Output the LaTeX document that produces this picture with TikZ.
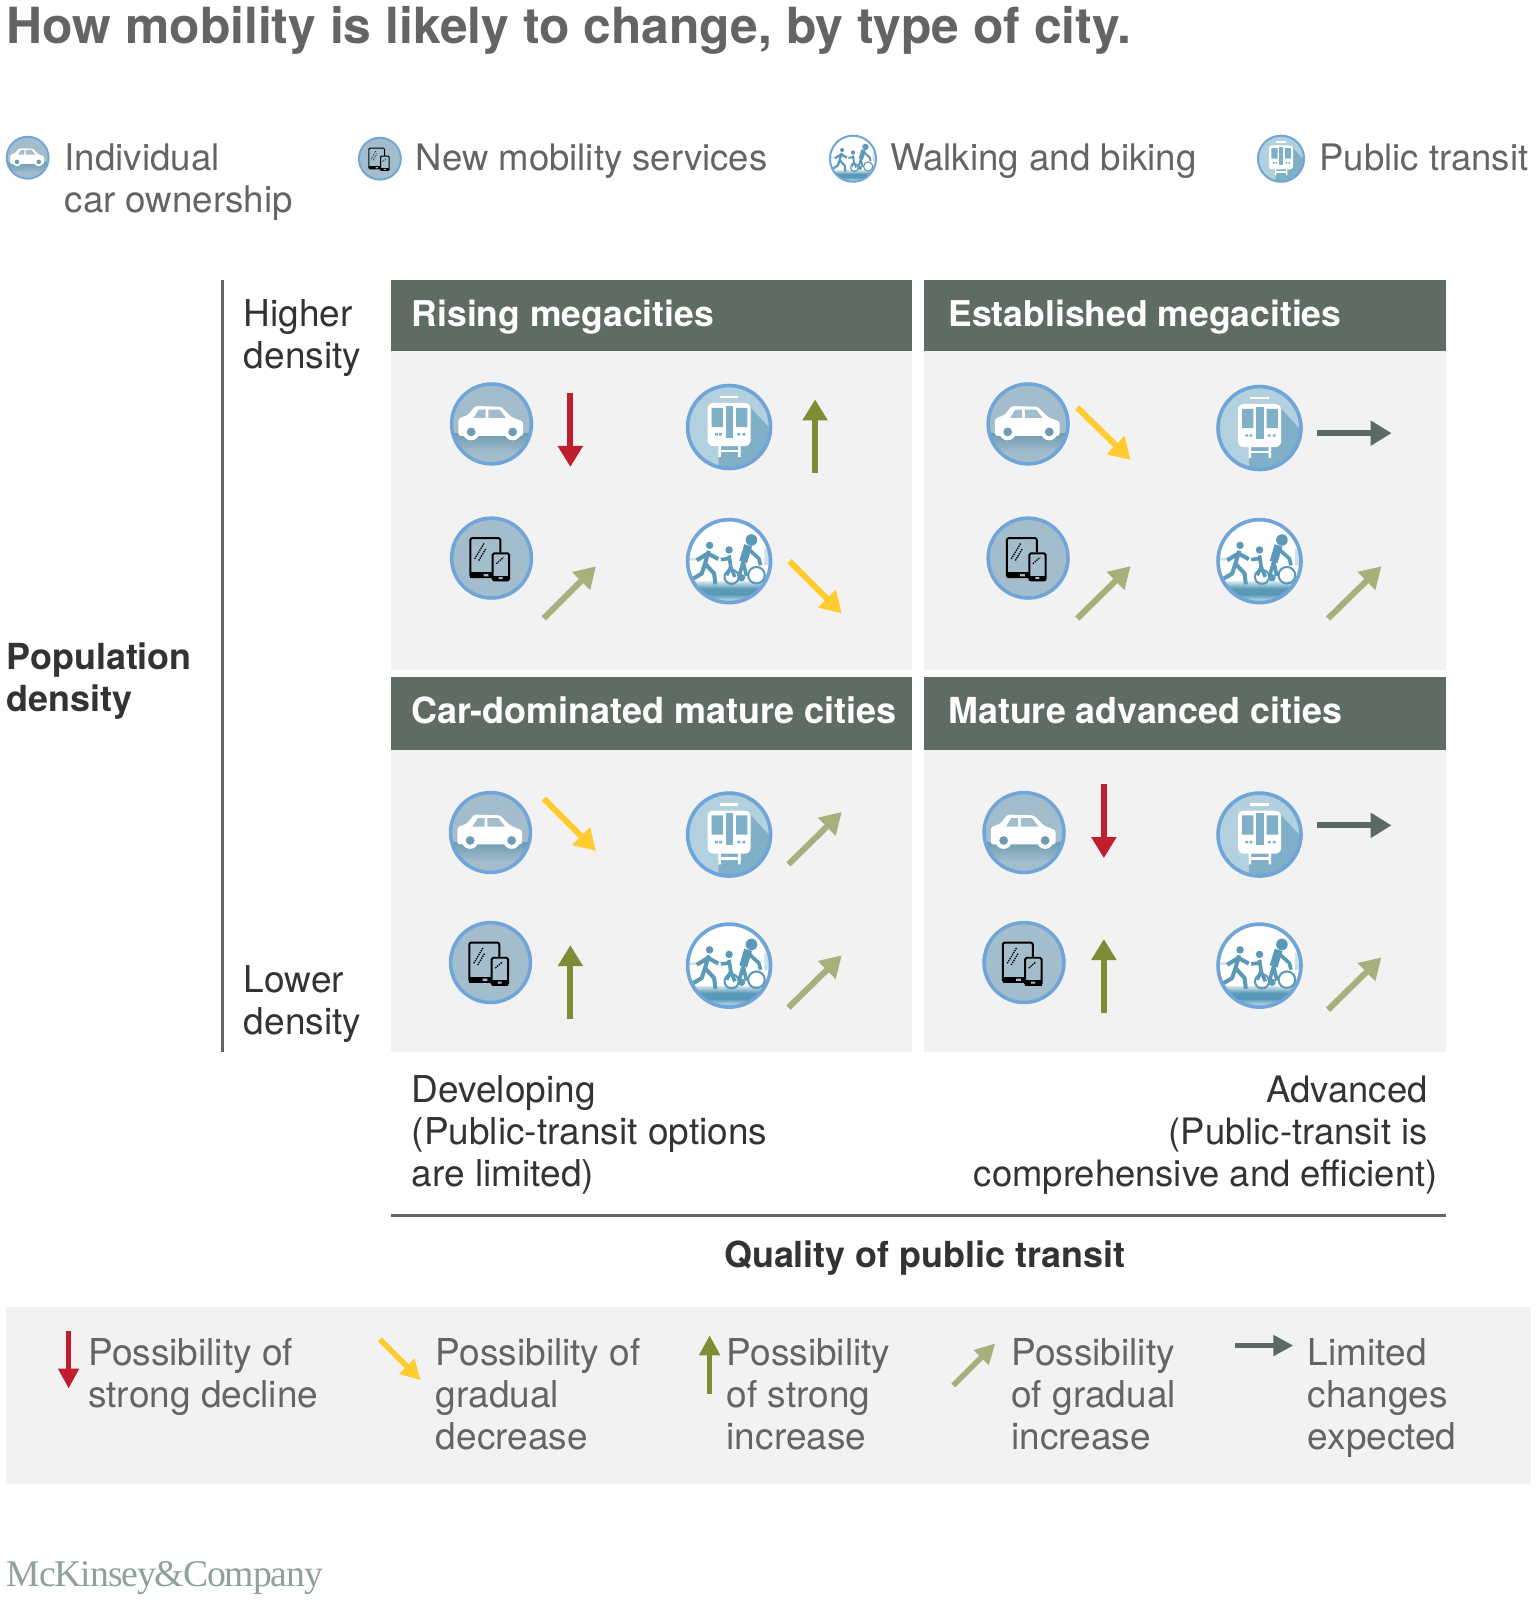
\documentclass[tikz,border=0pt]{standalone}
\usepackage{fontspec}
\setmainfont{TeX Gyre Heros}
\newfontfamily\logofont{Liberation Serif}
\usetikzlibrary{arrows.meta}
\definecolor{cGrey}{HTML}{636466}
\definecolor{cDark}{HTML}{333333}
\definecolor{cPanel}{HTML}{F2F2F2}
\definecolor{cHead}{HTML}{5F6C64}
\definecolor{cRed}{HTML}{BE1E2D}
\definecolor{cYel}{HTML}{FFCB2F}
\definecolor{cOli}{HTML}{7F8C36}
\definecolor{cLig}{HTML}{A9AF7B}
\definecolor{cFlat}{HTML}{5B6B63}
\definecolor{cRing}{HTML}{6FA5D8}
\definecolor{cCarBg}{HTML}{A3BDCC}
\definecolor{cCarSh}{HTML}{6F9CB2}
\definecolor{cTrainBg}{HTML}{B3D0DE}
\definecolor{cTrainDk}{HTML}{7FB0C8}
\definecolor{cFig}{HTML}{5A9AB8}
\definecolor{cLogo}{HTML}{8FA19C}
\tikzset{
  x=1.024pt,y=-1.024pt,
  panel/.style={fill=cPanel,draw=none},
  headbar/.style={fill=cHead,draw=none},
  rule/.style={draw=#1,line width=2.8pt},
  txt/.style={anchor=base west,inner sep=0pt,align=left,font=\fontsize{37pt}{42pt}\selectfont,text=cGrey},
  dtxt/.style={txt,text=cDark},
  btxt/.style={txt,text=cDark,font=\fontsize{35.9pt}{42pt}\selectfont\bfseries},
  htxt/.style={txt,text=white,font=\fontsize{35.5pt}{42pt}\selectfont\bfseries},
  arr/.style={draw=#1,line width=6pt,-{Triangle[length=21pt,width=24pt,fill=#1]}},
  larr/.style={draw=#1,line width=5.5pt,-{Triangle[length=20pt,width=20pt,fill=#1]}},
}
\newcommand{\icstart}[3]{\begin{scope}[shift={(#1,#2)},x=#3*1.024pt,y=-#3*1.024pt]}
\newcommand{\carIcon}[4]{%
 \icstart{#1}{#2}{#3}
  \fill[cCarBg] (0,0) circle (1);
  \begin{scope}\clip (0,0) circle (1);
   \shade[top color=cCarSh,bottom color=cCarBg] (-1,.25) rectangle (1,.72);
  \end{scope}
  \fill[white,rounded corners=.06*#3*1.024pt] (-.83,.3) -- (-.83,-.13) -- (-.58,-.23) -- (-.41,-.45) -- (.24,-.43) -- (.5,-.17) -- (.79,-.06) -- (.79,.3) -- cycle;
  \fill[cCarBg] (-.45,-.15) -- (-.32,-.36) -- (-.15,-.36) -- (-.15,-.15) -- cycle;
  \fill[cCarBg] (-.08,-.15) -- (-.08,-.36) -- (.2,-.36) -- (.36,-.15) -- cycle;
  \fill[white] (-.51,.2) circle (.21) (.53,.2) circle (.21);
  \fill[cCarSh] (-.51,.2) circle (.11) (.53,.2) circle (.11);
 \end{scope}
 \node[circle,draw=cRing,line width=#3*.09pt,minimum size=#3*2.048pt,inner sep=0pt] (#4) at (#1,#2) {};
}
\newcommand{\phoneIcon}[4]{%
 \icstart{#1}{#2}{#3}
  \fill[cCarBg] (0,0) circle (1);
  \draw[black,line width=#3*.05pt,rounded corners=.05*#3*1.024pt] (.03,.48) -- (-.53,.48) -- (-.53,-.5) -- (.22,-.5) -- (.22,-.14);
  \fill[black] (-.53,.36) rectangle (.03,.5);
  \draw[black,fill=cCarBg,line width=#3*.05pt,rounded corners=.04*#3*1.024pt] (.03,-.12) rectangle (.44,.56);
  \fill[black] (.03,.44) rectangle (.44,.58);
  \fill[cCarBg] (-.2,.4) rectangle (-.08,.46) (.18,.48) rectangle (.28,.53);
  \draw[black,line width=#3*.035pt,densely dotted] (-.42,.02) -- (-.18,-.38) (-.32,.06) -- (-.14,-.24) (.12,.14) -- (.3,-.02);
 \end{scope}
 \node[circle,draw=cRing,line width=#3*.09pt,minimum size=#3*2.048pt,inner sep=0pt] (#4) at (#1,#2) {};
}
\newcommand{\trainIcon}[4]{%
 \icstart{#1}{#2}{#3}
  \fill[cTrainBg] (0,0) circle (1);
  \begin{scope}\clip (0,0) circle (1);
   \fill[cTrainDk] (.4,-.6) -- (1,.05) -- (1,1) -- (-.25,1) -- (-.25,.4) -- cycle;
  \end{scope}
  \fill[white] (-.22,-.75) rectangle (.22,-.69);
  \fill[white,rounded corners=.14*#3*1.024pt] (-.52,-.58) rectangle (.52,.46);
  \fill[cTrainDk] (-.42,-.46) rectangle (-.15,0) (.17,-.46) rectangle (.44,0);
  \fill[cTrainDk] (-.08,-.51) rectangle (.1,.26);
  \fill[cTrainDk] (-.34,.15) rectangle (-.27,.21) (-.24,.15) rectangle (-.17,.21) (.2,.15) rectangle (.27,.21) (.32,.15) rectangle (.39,.21);
  \fill[white] (-.26,.42) rectangle (-.2,.72) (.22,.42) rectangle (.28,.72);
  \fill[white] (-.26,.55) rectangle (.28,.61);
 \end{scope}
 \node[circle,draw=cRing,line width=#3*.09pt,minimum size=#3*2.048pt,inner sep=0pt] (#4) at (#1,#2) {};
}
\newcommand{\walkIcon}[4]{%
 \icstart{#1}{#2}{#3}
  \fill[white] (0,0) circle (1);
  \begin{scope}\clip (0,0) circle (1);
   \shade[top color=cFig!30!white,bottom color=cFig] (-1,.5) rectangle (1,.66);
   \fill[cFig] (-1,.66) rectangle (1,.8);
   \shade[top color=cFig,bottom color=cFig!20!white] (-1,.8) rectangle (1,1);
   \fill[cFig!30!white] (-1,-.08) rectangle (-.8,-.02) (.85,-.3) rectangle (1,.1);
   \fill[cFig] (-.47,-.38) circle (.09) (.0,-.27) circle (.09) (.54,-.51) circle (.14);
   \draw[cFig,line width=#3*.1pt,line join=round] (-.49,-.25) -- (-.58,.06) -- (-.36,.3) -- (-.33,.56) (-.58,.06) -- (-.66,.3) -- (-.86,.42) (-.52,-.18) -- (-.78,-.02) (-.5,-.18) -- (-.26,-.05);
   \draw[cFig,line width=#3*.09pt,line join=round] (-.0,-.14) -- (.04,.14) -- (.14,.38) (-.02,-.06) -- (-.2,-.04) (.04,.14) -- (-.06,.34);
   \draw[cFig,line width=#3*.2pt,line join=round] (.46,-.38) -- (.34,.02);
   \draw[cFig,line width=#3*.09pt,line join=round] (.34,.02) -- (.42,.36) (.46,-.3) -- (.72,-.06) -- (.76,.1) (.34,.02) -- (.24,.36);
   \draw[cFig,line width=#3*.05pt] (.06,.38) circle (.17) (.66,.34) circle (.2);
   \fill[cFig] (.3,.4) circle (.09);
  \end{scope}
 \end{scope}
 \node[circle,draw=cRing,line width=#3*.09pt,minimum size=#3*2.048pt,inner sep=0pt] (#4) at (#1,#2) {};
}
\newcommand{\ar}[4]{\coordinate (#2s) at (#3);\coordinate (#2e) at (#4);\draw[#1] (#2s) -- (#2e);}
\begin{document}
\begin{tikzpicture}
\useasboundingbox (0,0) rectangle (1500,1567.4);
\fill[white] (0,0) rectangle (1500,1567.4);
\node[txt,text=cGrey,font=\fontsize{49.8pt}{56pt}\selectfont\bfseries] (title) at (6.5,42) {How mobility is likely to change, by type of city.};
% top legend
\carIcon{27}{154}{20.5}{lgCar}
\phoneIcon{371}{155}{20.5}{lgPhone}
\walkIcon{833}{155}{22.5}{lgWalk}
\trainIcon{1251}{155}{22.5}{lgTrain}
\node[txt,font=\fontsize{36.7pt}{42pt}\selectfont] (tCar) at (63,207.7) {Individual\\car ownership};
\node[txt,font=\fontsize{36.5pt}{42pt}\selectfont] (tPhone) at (406,166.7) {New mobility services};
\node[txt,font=\fontsize{36.7pt}{42pt}\selectfont] (tWalk) at (869,166.7) {Walking and biking};
\node[txt,font=\fontsize{36.5pt}{42pt}\selectfont] (tTrain) at (1288.5,166.7) {Public transit};
% axes
\coordinate (axT) at (217,273);\coordinate (axB) at (217,1027);
\draw[rule=cGrey] (axT) -- (axB);
\coordinate (axL) at (382,1187);\coordinate (axR) at (1412,1187);
\draw[rule=cGrey] (axL) -- (axR);
\node[dtxt] (hi) at (238,359.7) {Higher\\density};
\node[dtxt] (lo) at (238,1010) {Lower\\density};
\node[btxt] (pop) at (6.5,694.7) {Population\\density};
\node[btxt] (qual) at (707,1237.7) {Quality of public transit};
\node[dtxt] (dev) at (402,1159) {Developing\\(Public-transit options\\are limited)};
\node[dtxt,font=\fontsize{36.4pt}{42pt}\selectfont,anchor=base east,align=right] (adv) at (1404,1159) {Advanced\kern10pt\\(Public-transit is\kern10pt\\comprehensive and efficient)};
% panels
\fill[panel] (382,273) rectangle (891,654);
\fill[panel] (902,273) rectangle (1412,654);
\fill[panel] (382,661) rectangle (891,1027);
\fill[panel] (902,661) rectangle (1412,1027);
\fill[headbar] (382,273) rectangle (891,343);
\fill[headbar] (902,273) rectangle (1412,343);
\fill[headbar] (382,661) rectangle (891,732);
\fill[headbar] (902,661) rectangle (1412,732);
\node[htxt] (h1) at (402,318.7) {Rising megacities};
\node[htxt] (h2) at (926,318.7) {Established megacities};
\node[htxt,font=\fontsize{36pt}{42pt}\selectfont\bfseries] (h3) at (402,706.7) {Car-dominated mature cities};
\node[htxt,font=\fontsize{35.8pt}{42pt}\selectfont\bfseries] (h4) at (926,706.7) {Mature advanced cities};
% Rising
\carIcon{480}{414}{39}{aCar}
\trainIcon{712}{417}{40.5}{aTrain}
\phoneIcon{480}{545}{39}{aPhone}
\walkIcon{712}{548}{40.5}{aWalk}
\ar{arr=cRed}{a1}{557,384}{557,456}
\ar{arr=cOli}{a2}{796,462}{796,390}
\ar{arr=cLig}{a3}{531,604}{582,553}
\ar{arr=cYel}{a4}{771,548}{822,599}
% Established
\carIcon{1004}{414}{39}{bCar}
\trainIcon{1230}{418}{40.5}{bTrain}
\phoneIcon{1004}{545}{39}{bPhone}
\walkIcon{1230}{548}{40.5}{bWalk}
\ar{arr=cYel}{b1}{1052,398}{1104,449}
\ar{arr=cFlat}{b2}{1286,423}{1359,423}
\ar{arr=cLig}{b3}{1052,604}{1104,553}
\ar{arr=cLig}{b4}{1297,604}{1349,553}
% Car-dominated
\carIcon{479}{813}{39}{cCar}
\trainIcon{712}{815}{40.5}{cTrain}
\phoneIcon{479}{940}{39}{cPhone}
\walkIcon{712}{943}{40.5}{cWalk}
\ar{arr=cYel}{c1}{531,780}{582,831}
\ar{arr=cLig}{c2}{770,844}{822,793}
\ar{arr=cOli}{c3}{557,995}{557,923}
\ar{arr=cLig}{c4}{770,984}{822,933}
% Mature
\carIcon{1000}{813}{39}{dCar}
\trainIcon{1230}{815}{40.5}{dTrain}
\phoneIcon{1000}{940}{39}{dPhone}
\walkIcon{1230}{943}{40.5}{dWalk}
\ar{arr=cRed}{d1}{1078,766}{1078,838}
\ar{arr=cFlat}{d2}{1286,806}{1359,806}
\ar{arr=cOli}{d3}{1078,989}{1078,917}
\ar{arr=cLig}{d4}{1297,986}{1349,935}
% bottom legend
\fill[panel] (6,1276) rectangle (1495,1449);
\ar{larr=cRed}{e1}{67,1300}{67,1356}
\ar{larr=cYel}{e2}{371,1308}{411,1348}
\ar{larr=cOli}{e3}{693,1361}{693,1304}
\ar{larr=cLig}{e4}{931,1353}{972,1312}
\ar{larr=cFlat}{e5}{1206,1314}{1263,1314}
\node[txt] (l1) at (86,1374.7) {Possibility of\\strong decline};
\node[txt] (l2) at (425.5,1415.7) {Possibility of\\gradual\\decrease};
\node[txt] (l3) at (709.5,1415.7) {Possibility\\of strong\\increase};
\node[txt] (l4) at (987.5,1415.7) {Possibility\\of gradual\\increase};
\node[txt] (l5) at (1277,1415.7) {Limited\\changes\\expected};
\node[txt,text=cLogo,font=\fontsize{37.7pt}{40pt}\logofont\selectfont] (logo) at (6.5,1549) {\addfontfeature{LetterSpace=-3}McKinsey\&Company};
\end{tikzpicture}
\end{document}
